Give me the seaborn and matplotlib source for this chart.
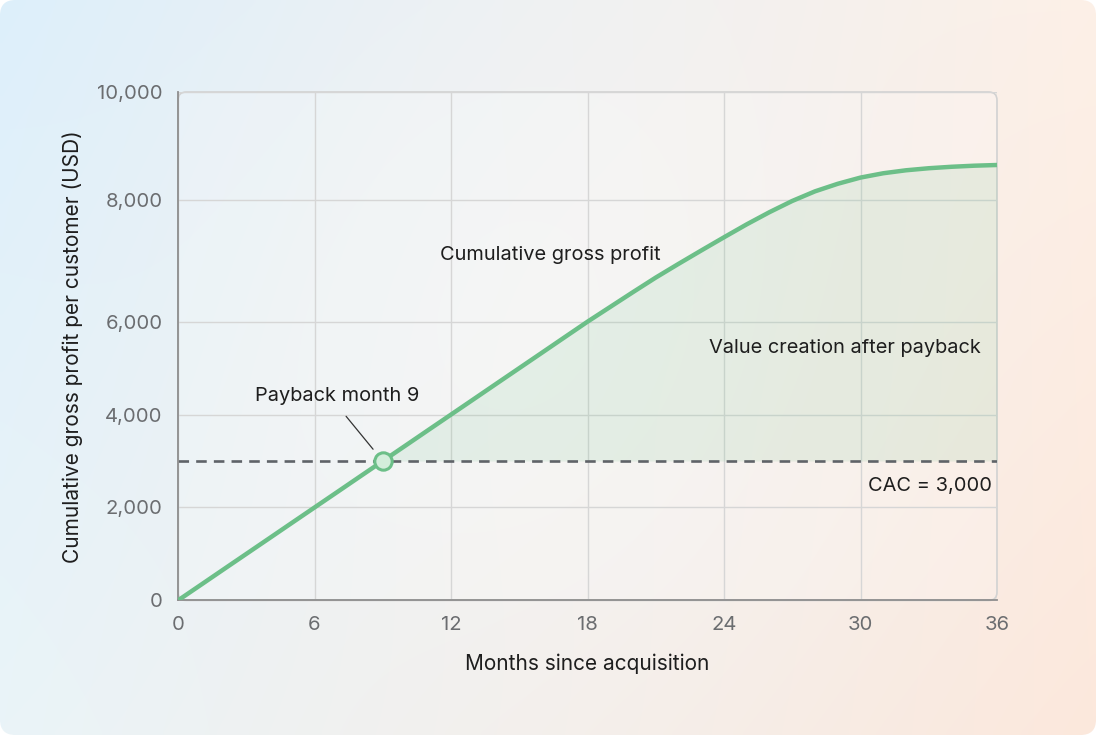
import numpy as np
import pandas as pd
import matplotlib
import matplotlib.pyplot as plt
import seaborn as sns
from matplotlib.patches import FancyBboxPatch
from matplotlib.ticker import StrMethodFormatter

matplotlib.use('Agg')

# data
months = list(range(37))
gross_profit = [0, 333, 667, 1000, 1333, 1667, 2000, 2333, 2667, 3000,
                3333, 3667, 4000, 4333, 4667, 5000, 5333, 5667, 6000,
                6243, 6486, 6725, 6950, 7170, 7387, 7600, 7800, 7984,
                8160, 8300, 8415, 8495, 8550, 8588, 8615, 8635, 8648]
cac = 3000
payback_month = 9
x_ticks = [0, 6, 12, 18, 24, 30, 36]
y_ticks = [0, 2000, 4000, 6000, 8000, 10000]

GREEN = '#6cbf88'
TEXT = '#1e1e1e'
W, H = 1096, 735

sns.set_theme(style='white')
plt.rcParams['font.family'] = ['Inter', 'DejaVu Sans']

fig = plt.figure(figsize=(W / 100, H / 100), dpi=100)
fig.patch.set_facecolor('white')

# gradient background with rounded corners
bg = fig.add_axes([0, 0, 1, 1], zorder=-1)
bg.set_axis_off()
tl = np.array([221, 239, 251]) / 255
tr = np.array([253, 240, 231]) / 255
bl = np.array([234, 244, 248]) / 255
br = np.array([252, 232, 220]) / 255
u = np.linspace(0, 1, 200)[None, :, None]
v = np.linspace(0, 1, 140)[:, None, None]
grad = (1 - v) * ((1 - u) * tl + u * tr) + v * ((1 - u) * bl + u * br)
glow = 0.45 * np.exp(-((u - 0.5) ** 2 / 0.08 + (v - 0.45) ** 2 / 0.25))
grad = grad * (1 - glow) + glow * np.array([0.975, 0.975, 0.972])
im = bg.imshow(grad, extent=[0, 1, 0, 1], aspect='auto', interpolation='bilinear')
clip = FancyBboxPatch((0, 0), 1, 1, boxstyle='round,pad=0,rounding_size=0.014',
                      mutation_aspect=W / H, transform=bg.transAxes,
                      facecolor='none', edgecolor='none')
bg.add_patch(clip)
im.set_clip_path(clip)
bg.set_xlim(0, 1)
bg.set_ylim(0, 1)

# main axes
ax = fig.add_axes([178 / W, 1 - 600.4 / H, 819 / W, 508.4 / H])
ax.set_facecolor('none')

# the reference y axis is not evenly spaced above 6,000
y_breaks = [0, 6000, 8000, 10000]
y_pos = [0, 0.5482, 0.7876, 1.0]


def fwd(y):
    return np.interp(y, y_breaks, y_pos)


def inv(p):
    return np.interp(p, y_pos, y_breaks)


ax.set_yscale('function', functions=(fwd, inv))

df = pd.DataFrame({'month': months, 'profit': gross_profit})

frame = FancyBboxPatch((0, 0), 1, 1, boxstyle='round,pad=0,rounding_size=0.01',
                       mutation_aspect=819 / 508.4, transform=ax.transAxes,
                       facecolor=(1, 1, 1, 0.18), edgecolor='#d2d2d2',
                       linewidth=1.2, zorder=0, clip_on=False)
ax.add_patch(frame)

ax.fill_between(df['month'], cac, df['profit'],
                where=df['month'] >= payback_month, interpolate=True,
                color=GREEN, alpha=0.13, linewidth=0, zorder=1)
ax.axhline(cac, color='#5f6368', linewidth=1.9, dashes=(4, 2.7), zorder=2)
sns.lineplot(data=df, x='month', y='profit', color=GREEN, linewidth=3.2,
             ax=ax, zorder=3)
ax.plot([payback_month], [cac], marker='o', markersize=12.5,
        markerfacecolor='#d3eedb', markeredgecolor=GREEN,
        markeredgewidth=2.2, zorder=4)

ax.set_xlim(0, 36)
ax.set_ylim(0, 10000)
ax.set_xticks(x_ticks)
ax.set_yticks(y_ticks)
ax.yaxis.set_major_formatter(StrMethodFormatter('{x:,.0f}'))
ax.yaxis.set_minor_locator(matplotlib.ticker.NullLocator())
ax.grid(True, color='#d6d6d6', linewidth=1.0)
ax.set_axisbelow(True)
ax.tick_params(axis='both', length=0, labelsize=14.6, labelcolor='#6b6d70')
ax.tick_params(axis='x', pad=11)
ax.tick_params(axis='y', pad=11)

for side in ['top', 'right']:
    ax.spines[side].set_visible(False)
for side in ['left', 'bottom']:
    ax.spines[side].set_color('#8e8e8e')
    ax.spines[side].set_linewidth(1.3)

ax.set_xlabel('Months since acquisition', fontsize=15, color=TEXT,
              va='center')
ax.set_ylabel('Cumulative gross profit per customer (USD)', fontsize=15,
              color=TEXT, va='center')
ax.xaxis.set_label_coords(0.5, -0.125)
ax.yaxis.set_label_coords(-0.128, 0.5)

ax.annotate('Payback month 9', xy=(payback_month, cac), xytext=(7.0, 4390),
            ha='center', va='center', fontsize=14.4, color=TEXT,
            arrowprops=dict(arrowstyle='-', color='#333333', linewidth=0.9,
                            relpos=(0.5, 0), shrinkA=7, shrinkB=11))
ax.text(16.35, 7096, 'Cumulative gross profit', ha='center', va='center',
        fontsize=14.4, color=TEXT)
ax.text(29.32, 5434, 'Value creation after payback', ha='center',
        va='center', fontsize=14.4, color=TEXT)
ax.text(35.8, 2463, 'CAC = 3,000', ha='right', va='center', fontsize=14.4,
        color=TEXT)

plt.savefig('out.png', dpi=100)
plt.close()
